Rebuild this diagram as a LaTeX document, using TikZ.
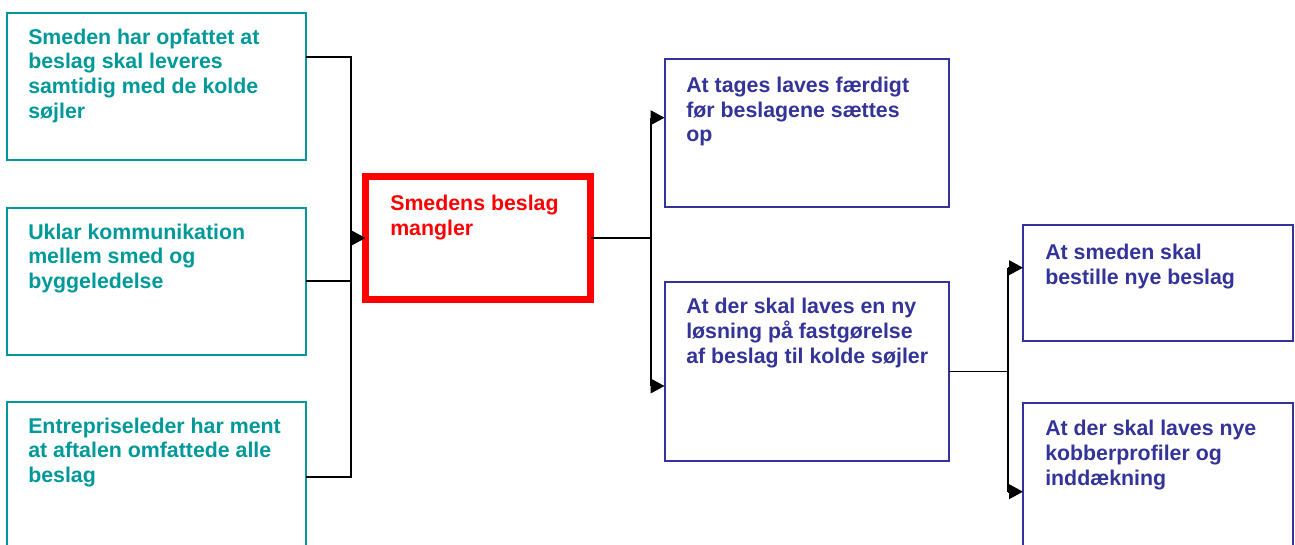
\documentclass[tikz,border=0pt]{standalone}
\usepackage{fontspec}
\setmainfont{Liberation Sans}
\usetikzlibrary{arrows.meta}
\definecolor{tealc}{HTML}{009999}
\definecolor{navyc}{HTML}{333399}
\definecolor{redc}{HTML}{FF0000}
\tikzset{
  boxbase/.style={draw, rectangle, anchor=north west, inner sep=0pt, outer sep=0pt, fill=white},
  causebox/.style={boxbase, draw=tealc, line width=1.5pt, minimum width=224.25pt, minimum height=110.25pt},
  effbox/.style={boxbase, draw=navyc, line width=1.5pt},
  probbox/.style={boxbase, draw=redc, line width=5.25pt, minimum width=168.75pt, minimum height=92.25pt},
  txt/.style={anchor=north west, inner sep=0pt, align=left, font=\fontsize{16}{18.5}\selectfont\bfseries},
  conn/.style={draw=black, line width=1.3pt},
  arr/.style={-{Triangle[length=10.5pt,width=11pt]}}
}
\begin{document}
\begin{tikzpicture}[x=0.75pt, y=-0.75pt]
\clip (0,0) rectangle (1295,545);
\fill[white] (0,0) rectangle (1295,545);
% boxes
\node[causebox] (L1) at (7,12.7) {};
\node[causebox] (L2) at (7,207.7) {};
\node[causebox, minimum height=130pt] (L3) at (7,401.7) {};
\node[probbox] (C) at (365.5,176.5) {};
\node[effbox, minimum width=213.4pt, minimum height=111pt] (R1) at (664.5,59) {};
\node[effbox, minimum width=213.4pt, minimum height=133.8pt] (R2) at (664.5,282.3) {};
\node[effbox, minimum width=202.5pt, minimum height=87pt] (R3) at (1023,225) {};
\node[effbox, minimum width=202.5pt, minimum height=135pt] (R4) at (1023,403) {};
% texts
\node[txt, text=tealc] (tL1) at (28,28.3) {Smeden har opfattet at\\beslag skal leveres\\samtidig med de kolde\\søjler};
\node[txt, text=tealc] (tL2) at (28,223.3) {Uklar kommunikation\\mellem smed og\\byggeledelse};
\node[txt, text=tealc] (tL3) at (28,417.3) {Entrepriseleder har ment\\at aftalen omfattede alle\\beslag};
\node[txt, text=redc] (tC) at (390,195) {Smedens beslag\\mangler};
\node[txt, text=navyc] (tR1) at (686,76.7) {At tages laves færdigt\\før beslagene sættes\\op};
\node[txt, text=navyc] (tR2) at (686,298) {At der skal laves en ny\\løsning på fastgørelse\\af beslag til kolde søjler};
\node[txt, text=navyc] (tR3) at (1045,244) {At smeden skal\\bestille nye beslag};
\node[txt, text=navyc] (tR4) at (1045,420) {At der skal laves nye\\kobberprofiler og\\inddækning};
% junction coordinates
\coordinate (ja) at (351,57);
\coordinate (jb) at (351,477);
\coordinate (m1) at (650.7,117.7);
\coordinate (m2) at (650.7,386);
\coordinate (r1) at (1008,267.7);
\coordinate (r2) at (1008,491.7);
% left connectors
\draw[conn] (L1.east |- ja) -- (ja) -- (jb) -- (L3.east |- jb);
\draw[conn] (L2.east) -- (L2.east -| ja);
\draw[conn, arr] (C.west -| ja) -- (C.west);
% middle connectors
\draw[conn] (C.east) -- (C.east -| m1);
\draw[conn] (m1) -- (m2);
\draw[conn, arr] (m1) -- (R1.west |- m1);
\draw[conn, arr] (m2) -- (R2.west |- m2);
% right connectors
\draw[conn, line width=1pt] (R2.east) -- (R2.east -| r1);
\draw[conn] (r1) -- (r2);
\draw[conn, arr] (r1) -- (R3.west |- r1);
\draw[conn, arr] (r2) -- (R4.west |- r2);
\end{tikzpicture}
\end{document}
